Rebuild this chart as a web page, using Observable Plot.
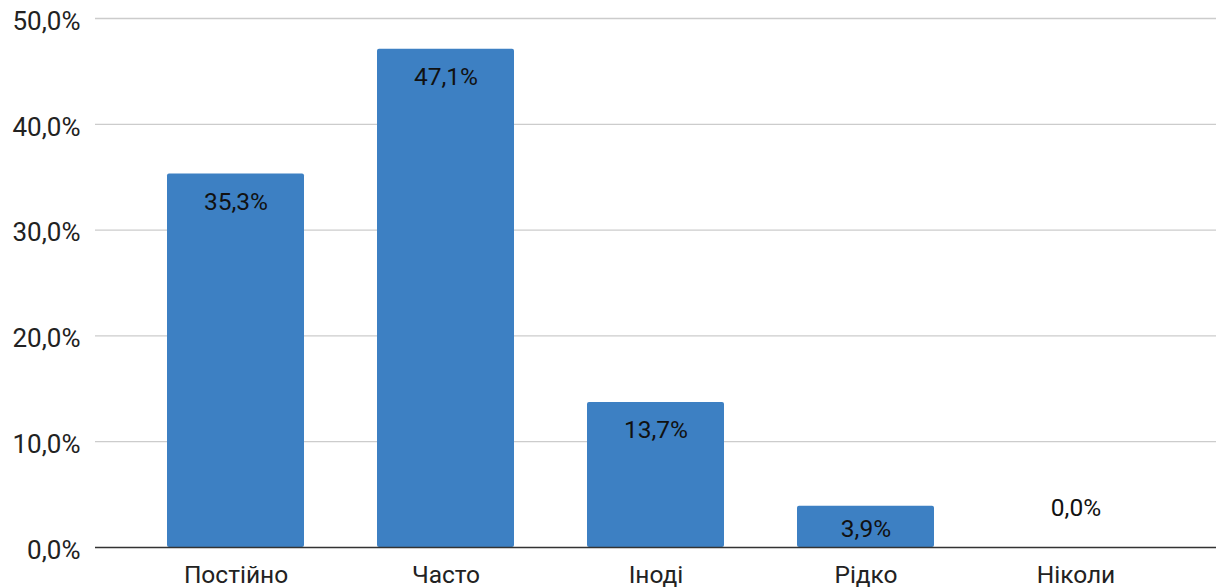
<!DOCTYPE html>
<html>
<head>
<meta charset="utf-8">
<script src="https://cdn.jsdelivr.net/npm/d3@7"></script>
<script src="https://cdn.jsdelivr.net/npm/@observablehq/plot@0.6"></script>
<style>
  html, body { margin: 0; padding: 0; background: #fff; }
  #chart svg { display: block; }
</style>
</head>
<body>
<div id="chart"></div>
<script>
// Response frequency shares (%)
const categories = ["Постійно", "Часто", "Іноді", "Рідко", "Ніколи"];
const shares = [35.3, 47.1, 13.7, 3.9, 0.0];
const yTicks = [0, 10, 20, 30, 40, 50];

const fmt = v => v.toFixed(1).replace(".", ",") + "%";
const rows = categories.map((c, i) => ({category: c, share: shares[i]}));

// Labels sit inside the top of tall bars, centred in short bars, above empty ones
const tall = rows.filter(d => d.share >= 6);
const short = rows.filter(d => d.share > 0 && d.share < 6);
const empty = rows.filter(d => d.share === 0);

const chart = Plot.plot({
  width: 1222,
  height: 588,
  marginTop: 18,
  marginBottom: 41,
  marginLeft: 95,
  marginRight: 6,
  style: {fontFamily: "Roboto, sans-serif", color: "#222", background: "#fff"},
  x: {domain: categories, range: [130.5, 1180.5], paddingInner: 0.348, paddingOuter: 0.174, label: null},
  y: {domain: [0, 50], label: null},
  marks: [
    Plot.ruleY(yTicks.filter(t => t > 0), {stroke: "#ccc", strokeWidth: 1.3, strokeOpacity: 1}),
    Plot.barY(rows, {x: "category", y: "share", fill: "#3d80c3", rx: 2}),
    Plot.ruleY([0], {stroke: "#333", strokeWidth: 1.5}),
    Plot.axisY({ticks: yTicks, tickFormat: fmt, tickSize: 0, tickPadding: 15, fontSize: 26, dy: 3, label: null}),
    Plot.axisX({tickSize: 0, tickPadding: 18, fontSize: 24.5, label: null}),
    Plot.text(tall, {x: "category", y: "share", text: d => fmt(d.share), dy: 28, fontSize: 24.5, fill: "#111"}),
    Plot.text(short, {x: "category", y: d => d.share / 2, text: d => fmt(d.share), dy: 2, fontSize: 24.5, fill: "#111"}),
    Plot.text(empty, {x: "category", y: "share", text: d => fmt(d.share), dy: -39, fontSize: 24.5, fill: "#111"})
  ]
});
document.getElementById("chart").appendChild(chart);
</script>
</body>
</html>
